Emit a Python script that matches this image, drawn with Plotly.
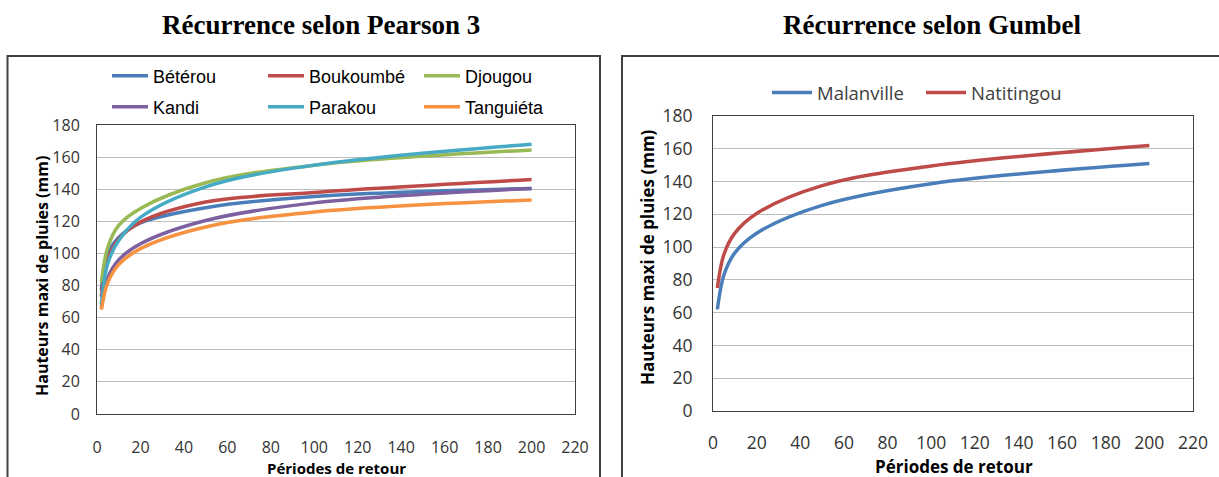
import plotly.graph_objects as go

W, H = 1219, 477

# ---------------- data ----------------
periods = [2, 5, 10, 20, 50, 100, 200]

pearson_names = ["Bétérou", "Boukoumbé", "Djougou", "Kandi", "Parakou", "Tanguiéta"]
beterou = [77, 100, 110, 119, 128.5, 135.5, 140.5]
boukoumbe = [73, 96, 109, 119.5, 132, 138, 146]
djougou = [82, 104, 117.5, 128, 144, 155, 164.5]
kandi = [66, 85, 96, 106, 120.5, 131.5, 140.5]
parakou = [68, 94, 108, 122.5, 141.5, 155, 168]
tanguieta = [65, 82, 93, 103, 116.5, 125.8, 133.3]
pearson_values = [beterou, boukoumbe, djougou, kandi, parakou, tanguieta]
pearson_colors = ["#4A7EBB", "#BE4B48", "#98B954", "#7D60A0", "#46AAC5", "#F69240"]

gumbel_names = ["Malanville", "Natitingou"]
malanville = [62, 83, 96.5, 108.5, 125.5, 138.7, 151]
natitingou = [75, 95.5, 108.5, 120.5, 137.5, 149.5, 162]
gumbel_values = [malanville, natitingou]
gumbel_colors = ["#4A7EBB", "#BE4B48"]

x_ticks = list(range(0, 221, 20))
y_ticks = list(range(0, 181, 20))

title_left = "Récurrence selon Pearson 3"
title_right = "Récurrence selon Gumbel"
x_title = "Périodes de retour"
y_title = "Hauteurs maxi de pluies (mm)"


def px(x):
    return x / W


def py(y):
    return 1 - y / H


fig = go.Figure()

legend_of = ["legend", "legend", "legend", "legend2", "legend2", "legend2"]
for name, vals, col, lg in zip(pearson_names, pearson_values, pearson_colors, legend_of):
    fig.add_trace(go.Scatter(
        x=periods, y=vals, name=name, mode="lines",
        line=dict(color=col, width=3.5, shape="spline", smoothing=1.0),
        xaxis="x", yaxis="y", legend=lg))

for name, vals, col in zip(gumbel_names, gumbel_values, gumbel_colors):
    fig.add_trace(go.Scatter(
        x=periods, y=vals, name=name, mode="lines",
        line=dict(color=col, width=3.5, shape="spline", smoothing=1.0),
        xaxis="x2", yaxis="y2", legend="legend3"))

tick_font_l = dict(family="Open Sans", size=16, color="#333333")
tick_font_r = dict(family="Open Sans", size=17.5, color="#333333")

common_x = dict(range=[0, 220], tickvals=x_ticks, showgrid=False, zeroline=False,
                showline=True, linecolor="#404040", linewidth=1, mirror=True,
                ticks="", fixedrange=True, automargin=False)
common_y = dict(range=[0, 180], tickvals=y_ticks, showgrid=True, gridcolor="#BEBEBE",
                gridwidth=1, zeroline=False, showline=True, linecolor="#404040",
                linewidth=1, mirror=True, ticks="", fixedrange=True, automargin=False)

legend_font_l = dict(family="Liberation Sans", size=18, color="#000000")

fig.update_layout(
    width=W, height=H,
    margin=dict(l=0, r=0, t=0, b=0, autoexpand=False),
    paper_bgcolor="white", plot_bgcolor="white",
    xaxis=dict(domain=[px(97), px(575)], anchor="y", tickfont=tick_font_l,
               ticklabelstandoff=19, **common_x),
    yaxis=dict(domain=[py(414), py(125)], anchor="x", tickfont=tick_font_l,
               ticklabelstandoff=13, **common_y),
    xaxis2=dict(domain=[px(713), px(1193)], anchor="y2", tickfont=tick_font_r,
                ticklabelstandoff=16, **common_x),
    yaxis2=dict(domain=[py(411), py(116)], anchor="x2", tickfont=tick_font_r,
                ticklabelstandoff=16, **common_y),
    legend=dict(orientation="h", x=px(107), y=py(76), xanchor="left", yanchor="middle",
                entrywidth=105, entrywidthmode="pixels", itemwidth=36,
                font=legend_font_l, bgcolor="rgba(0,0,0,0)", tracegroupgap=0),
    legend2=dict(orientation="h", x=px(107), y=py(107), xanchor="left", yanchor="middle",
                 entrywidth=105, entrywidthmode="pixels", itemwidth=36,
                 font=legend_font_l, bgcolor="rgba(0,0,0,0)", tracegroupgap=0),
    legend3=dict(orientation="h", x=px(767), y=py(93), xanchor="left", yanchor="middle",
                 entrywidth=99, entrywidthmode="pixels", itemwidth=40,
                 font=dict(family="Open Sans", size=18.5, color="#404040"),
                 bgcolor="rgba(0,0,0,0)", tracegroupgap=0),
    showlegend=True,
)

# outer chart boxes
fig.add_shape(type="rect", xref="paper", yref="paper", x0=px(7.5), x1=px(600), y0=py(480), y1=py(56),
              line=dict(color="#404040", width=2), fillcolor="rgba(0,0,0,0)", layer="below")
fig.add_shape(type="rect", xref="paper", yref="paper", x0=px(622), x1=px(1222), y0=py(480), y1=py(56),
              line=dict(color="#404040", width=2), fillcolor="rgba(0,0,0,0)", layer="below")

# titles
title_font = dict(family="Liberation Serif", size=27, color="#000000")
fig.add_annotation(text="<b>%s</b>" % title_left, x=px(321), y=py(25), xref="paper", yref="paper",
                   showarrow=False, font=title_font, xanchor="center", yanchor="middle")
fig.add_annotation(text="<b>%s</b>" % title_right, x=px(932), y=py(25), xref="paper", yref="paper",
                   showarrow=False, font=title_font, xanchor="center", yanchor="middle")

# axis titles
fig.add_annotation(text="<b>%s</b>" % y_title, x=px(42), y=py(276), xref="paper", yref="paper",
                   showarrow=False, textangle=-90, xanchor="center", yanchor="middle",
                   font=dict(family="Open Sans", size=16, color="#000000"))
fig.add_annotation(text="<b>%s</b>" % x_title, x=px(336), y=py(468), xref="paper", yref="paper",
                   showarrow=False, xanchor="center", yanchor="middle",
                   font=dict(family="Open Sans", size=15, color="#000000"))
fig.add_annotation(text="<b>%s</b>" % y_title, x=px(647), y=py(257), xref="paper", yref="paper",
                   showarrow=False, textangle=-90, xanchor="center", yanchor="middle",
                   font=dict(family="Open Sans", size=17, color="#000000"))
fig.add_annotation(text="<b>%s</b>" % x_title, x=px(954), y=py(466), xref="paper", yref="paper",
                   showarrow=False, xanchor="center", yanchor="middle",
                   font=dict(family="Open Sans", size=17, color="#000000"))

fig.write_html("out.html")
